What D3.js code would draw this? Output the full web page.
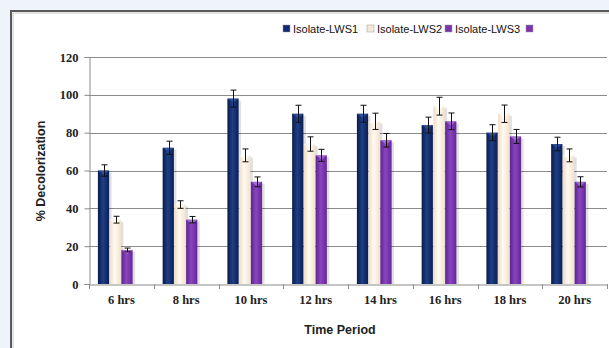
<!DOCTYPE html>
<html><head><meta charset="utf-8">
<script src="https://cdn.jsdelivr.net/npm/d3@7"></script>
<style>html,body{margin:0;padding:0;background:#eef4f9;}svg{display:block;}</style>
</head><body>
<svg id="c" width="609" height="348"></svg>
<script>
const categories = ["6 hrs","8 hrs","10 hrs","12 hrs","14 hrs","16 hrs","18 hrs","20 hrs"];
const seriesNames = ["Isolate-LWS1","Isolate-LWS2","Isolate-LWS3",""];
const lws1 = [60,72,98,90,90,84,80,74];
const lws2 = [34,42,68,74,86,94,90,68];
const lws3 = [18,34,54,68,76,86,78,54];
const lws4 = [null,null,null,null,null,null,null,null];
const err1 = [3,3.5,4.5,4.5,4.5,4.2,4.2,3.6];
const err2 = [1.8,2,3.4,3.8,4.3,4.7,4.6,3.4];
const err3 = [1,1.7,2.6,3.2,3.6,4.4,3.7,2.7];
const yTicks = [0,20,40,60,80,100,120];

const values = [lws1,lws2,lws3,lws4];
const errors = [err1,err2,err3,[]];
const svg = d3.select("#c");
const W=609,H=348;
const M={left:89,right:607,top:57,bottom:284};

// background & frame
svg.append("rect").attr("x",0).attr("y",0).attr("width",W).attr("height",H).attr("fill","#eef4f9");
svg.append("rect").attr("x",11).attr("y",11).attr("width",640).attr("height",400).attr("fill","#fff").attr("stroke","#5a5a5a").attr("stroke-width",2);
svg.append("line").attr("x1",13).attr("x2",13).attr("y1",13).attr("y2",H).attr("stroke","#c8c8c8").attr("stroke-width",1);
svg.append("line").attr("x1",13).attr("x2",W).attr("y1",13).attr("y2",13).attr("stroke","#c8c8c8").attr("stroke-width",1);

const defs = svg.append("defs");
const grads = [
  ["g0","#081a4a","#1f3f86","#0a1f55"],
  ["g1","#efdcc4","#fffaf2","#f3e2cc"],
  ["g2","#5e2390","#8a45bf","#64279a"],
  ["g3","#5e2390","#8a45bf","#64279a"]
];
grads.forEach(([id,a,b,c])=>{
  const g=defs.append("linearGradient").attr("id",id).attr("x1","0").attr("x2","1").attr("y1","0").attr("y2","0");
  g.append("stop").attr("offset","0%").attr("stop-color",a);
  g.append("stop").attr("offset","45%").attr("stop-color",b);
  g.append("stop").attr("offset","100%").attr("stop-color",c);
});
const legendColors=["#0f2a6e","#f5e8d8","#7a35ad","#7a35ad"];

const x0 = d3.scaleBand().domain(categories).range([M.left,M.right]).padding(0);
const groupPad = 8.9;
const x1 = d3.scaleBand().domain(d3.range(4)).range([groupPad, x0.bandwidth()-groupPad]).padding(0);
const y = d3.scaleLinear().domain([0,120]).range([M.bottom,M.top]);

// gridlines
svg.append("g").selectAll("line").data(yTicks.filter(d=>d>0)).join("line")
  .attr("x1",M.left).attr("x2",M.right).attr("y1",d=>Math.round(y(d))+0.5).attr("y2",d=>Math.round(y(d))+0.5)
  .attr("stroke","#8c8c8c").attr("stroke-width",1);

// y axis
const yAxis = svg.append("g").attr("transform",`translate(${M.left+0.5},0)`)
  .call(d3.axisLeft(y).tickValues(yTicks).tickSize(5).tickPadding(6));
yAxis.select(".domain").attr("stroke","#8c8c8c");
yAxis.selectAll(".tick line").attr("stroke","#8c8c8c");
yAxis.selectAll(".tick text").attr("font-family","Liberation Serif, serif").attr("font-weight","bold").attr("font-size","12.5px").attr("fill","#222");

// x axis
const xAxis = svg.append("g").attr("transform",`translate(0,${M.bottom+0.5})`)
  .call(d3.axisBottom(x0).tickSize(0).tickPadding(11));
xAxis.select(".domain").attr("stroke","#8c8c8c");
xAxis.selectAll(".tick text").attr("font-family","Liberation Serif, serif").attr("font-weight","bold").attr("font-size","12.5px").attr("fill","#222");
svg.append("g").selectAll("line").data(categories.concat(["end"])).join("line")
  .attr("x1",(d,i)=>Math.round(M.left+i*x0.step())+0.5).attr("x2",(d,i)=>Math.round(M.left+i*x0.step())+0.5)
  .attr("y1",M.bottom).attr("y2",M.bottom+5).attr("stroke","#8c8c8c");

// bars
const barData=[];
categories.forEach((c,ci)=>{
  values.forEach((s,si)=>{
    if(s[ci]!=null) barData.push({c,si,v:s[ci],e:errors[si][ci]});
  });
});
const bw = x1.bandwidth();
const gb = svg.append("g");
gb.selectAll("rect.sh").data(barData).join("rect").attr("class","sh")
  .attr("x",d=>x0(d.c)+x1(d.si)+2).attr("y",d=>y(d.v)+2)
  .attr("width",bw).attr("height",d=>M.bottom-y(d.v)-2)
  .attr("fill","#000").attr("opacity",0.12);
gb.selectAll("rect.bar").data(barData).join("rect").attr("class","bar")
  .attr("x",d=>x0(d.c)+x1(d.si)).attr("y",d=>y(d.v))
  .attr("width",bw-0.5).attr("height",d=>M.bottom-y(d.v))
  .attr("fill",d=>`url(#g${d.si})`);
gb.selectAll("path.cap").data(barData).join("path").attr("class","cap")
  .attr("d",d=>{const xl=x0(d.c)+x1(d.si), yt=y(d.v);return `M${xl},${yt}L${xl+bw-0.5},${yt}L${xl+bw/2},${yt+4}Z`;})
  .attr("fill",d=>["#3a5aa8","#ffffff","#b37ae0"][d.si]).attr("opacity",0.7);

// error bars
const ge = svg.append("g").attr("stroke","#111").attr("stroke-width",1);
barData.forEach(d=>{
  const cx = Math.round(x0(d.c)+x1(d.si)+bw/2)+0.5;
  const yt=y(d.v+d.e), yb=y(d.v-d.e);
  ge.append("line").attr("x1",cx).attr("x2",cx).attr("y1",yt).attr("y2",yb);
  ge.append("line").attr("x1",cx-3).attr("x2",cx+3).attr("y1",yt).attr("y2",yt);
  ge.append("line").attr("x1",cx-3).attr("x2",cx+3).attr("y1",yb).attr("y2",yb);
});

// axis titles
svg.append("text").attr("x",340).attr("y",334).attr("text-anchor","middle")
  .attr("font-family","Liberation Sans, Arial, sans-serif").attr("font-weight","bold").attr("font-size","12.5px").attr("fill","#222").text("Time Period");
svg.append("text").attr("transform","translate(45,171) rotate(-90)").attr("text-anchor","middle")
  .attr("font-family","Liberation Sans, Arial, sans-serif").attr("font-weight","bold").attr("font-size","12.5px").attr("fill","#222").text("% Decolorization");

// legend
const legX=[283,367,445,526];
const lg = svg.append("g");
seriesNames.forEach((n,i)=>{
  lg.append("rect").attr("x",legX[i]).attr("y",25).attr("width",7).attr("height",7).attr("fill",legendColors[i]).attr("stroke","#999").attr("stroke-width",0.5);
  if(n) lg.append("text").attr("x",legX[i]+10).attr("y",33).attr("font-family","Liberation Sans, Arial, sans-serif").attr("font-size","11px").attr("fill","#111").text(n);
});
</script>
</body></html>
